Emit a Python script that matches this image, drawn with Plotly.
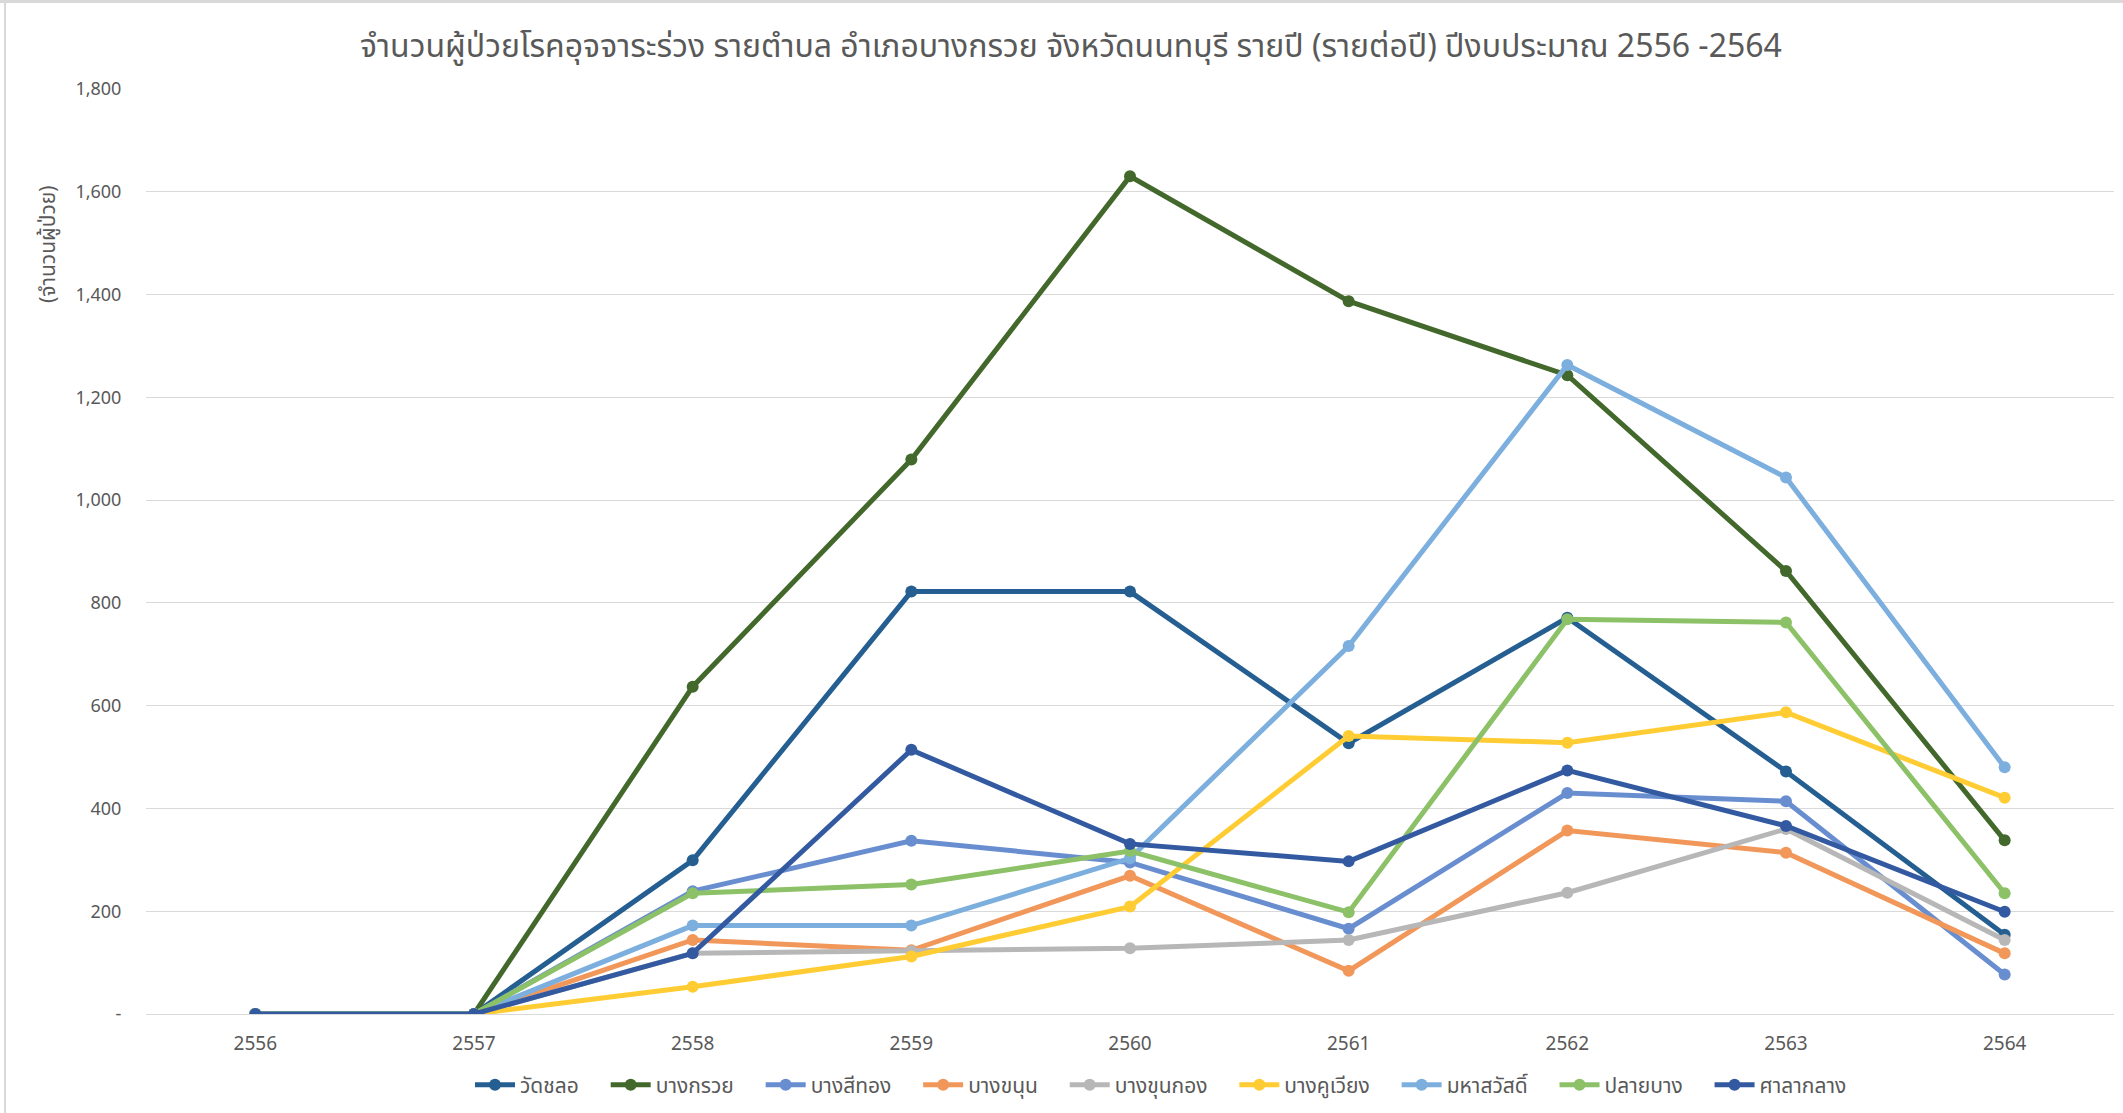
import plotly.graph_objects as go

years = ["2556", "2557", "2558", "2559", "2560", "2561", "2562", "2563", "2564"]

wat_chalo = [0, 0, 299, 822, 822, 527, 771, 472, 154]
bang_kruai = [0, 0, 637, 1079, 1630, 1387, 1243, 862, 338]
bang_si_thong = [0, 0, 239, 337, 295, 166, 430, 414, 77]
bang_khanun = [0, 0, 144, 124, 269, 84, 357, 314, 118]
bang_khun_kong = [0, 0, 118, 122, 128, 144, 236, 360, 144]
bang_khu_wiang = [0, 0, 53, 112, 209, 541, 528, 587, 421]
maha_sawat = [0, 0, 172, 172, 303, 716, 1263, 1044, 480]
plai_bang = [0, 0, 235, 252, 317, 198, 768, 762, 235]
sala_klang = [0, 0, 118, 514, 331, 297, 474, 366, 199]

series_names = ["วัดชลอ", "บางกรวย", "บางสีทอง", "บางขนุน", "บางขุนกอง",
                "บางคูเวียง", "มหาสวัสดิ์", "ปลายบาง", "ศาลากลาง"]
series_values = [wat_chalo, bang_kruai, bang_si_thong, bang_khanun, bang_khun_kong,
                 bang_khu_wiang, maha_sawat, plai_bang, sala_klang]
colors = ["#255E91", "#43682B", "#698ED0", "#F1975A", "#B7B7B7",
          "#FFCD33", "#7CAFDD", "#8CC168", "#335AA1"]

y_tickvals = [0, 200, 400, 600, 800, 1000, 1200, 1400, 1600, 1800]
y_ticktext = ["-", "200", "400", "600", "800", "1,000", "1,200", "1,400", "1,600", "1,800"]

FONT = "Tahoma, 'Noto Sans Thai', 'Noto Sans', 'DejaVu Sans', sans-serif"
PAD = "\u00a0\u00a0\u00a0\u00a0"

fig = go.Figure()
for name, vals, col in zip(series_names, series_values, colors):
    fig.add_trace(go.Scatter(
        x=years, y=vals, name=name + PAD, mode="lines+markers",
        line=dict(color=col, width=5),
        marker=dict(color=col, size=12),
    ))

W, H = 2123, 1113
L, R, T, B = 146, 9, 89, 99
PW, PH = W - L - R, H - T - B

fig.update_layout(
    width=W, height=H,
    margin=dict(l=L, r=R, t=T, b=B, autoexpand=False),
    paper_bgcolor="white", plot_bgcolor="white",
    font=dict(family=FONT, color="#595959", size=18),
    title=dict(
        text="จำนวนผู้ป่วยโรคอุจจาระร่วง รายตำบล อำเภอบางกรวย จังหวัดนนทบุรี รายปี (รายต่อปี) ปีงบประมาณ 2556 -2564",
        font=dict(family=FONT, size=32, color="#595959"),
        x=1071 / W, xanchor="center", xref="container",
        y=1 - 46 / H, yanchor="middle", yref="container",
    ),
    showlegend=True,
    legend=dict(
        orientation="h", x=(1172 - L) / PW, xanchor="center",
        y=(H - B - 1085) / PH, yanchor="middle",
        font=dict(size=21, color="#595959", family=FONT),
        itemwidth=40, tracegroupgap=0,
    ),
)

fig.update_xaxes(
    type="category", range=[-0.5, 8.5],
    showgrid=False, showline=False, zeroline=False,
    ticks="outside", ticklen=12, tickcolor="white",
    tickfont=dict(size=19, color="#595959"),
)
fig.update_yaxes(
    range=[0, 1800], tickvals=y_tickvals, ticktext=y_ticktext,
    showgrid=True, gridcolor="#D9D9D9", gridwidth=1.3,
    zeroline=True, zerolinecolor="#D9D9D9", zerolinewidth=1.3,
    showline=False, ticks="outside", ticklen=20, tickcolor="white",
    tickfont=dict(size=18, color="#595959"),
)

fig.add_annotation(
    text="(จำนวนผู้ป่วย)", textangle=-90,
    xref="paper", yref="paper",
    x=(49 - L) / PW, y=(H - B - 244) / PH,
    xanchor="center", yanchor="middle", showarrow=False,
    font=dict(size=21, color="#595959", family=FONT),
)

# chart area border (top and left visible)
fig.add_shape(type="line", xref="paper", yref="paper",
              x0=-L / PW, x1=1 + R / PW,
              y0=1 + (T - 1.5) / PH, y1=1 + (T - 1.5) / PH,
              line=dict(color="#D9D9D9", width=3))
fig.add_shape(type="line", xref="paper", yref="paper",
              x0=-(L - 5) / PW, x1=-(L - 5) / PW,
              y0=-B / PH, y1=1 + T / PH,
              line=dict(color="#D9D9D9", width=2))

fig.write_html(
    "out.html",
    config={"displayModeBar": False},
    post_script="document.body.style.margin='0';document.body.style.overflow='hidden';",
)
